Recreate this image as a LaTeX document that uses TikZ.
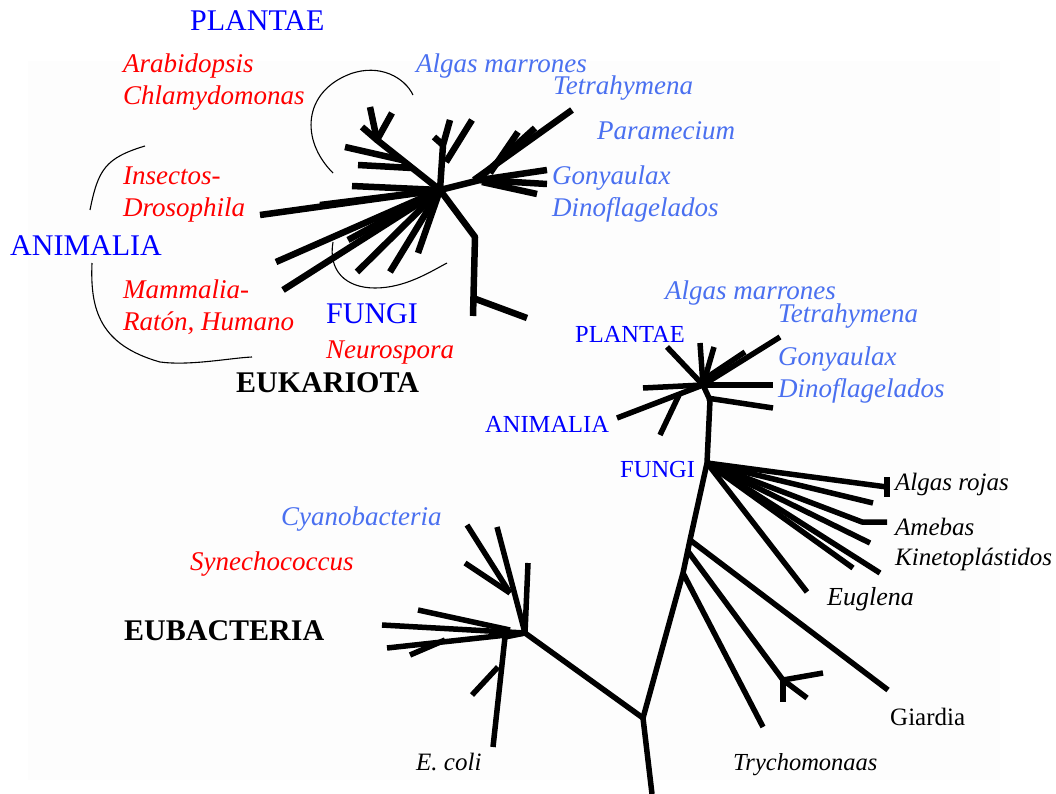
\documentclass[tikz,border=0pt]{standalone}
\usepackage{fontspec}
\setmainfont{Liberation Serif}
\usepackage{tikz}
\definecolor{reino}{HTML}{0000FF}
\definecolor{protis}{HTML}{4A70F0}
\definecolor{rojo}{HTML}{FF0000}
\definecolor{fondo}{HTML}{FDFDFD}
\tikzset{
  rama/.style={black,line width=5.5pt,line join=round},
  ramag/.style={black,line width=6.5pt,line join=round},
  arco/.style={black,line width=1.1pt},
  lab/.style={anchor=base west,inner sep=0pt},
  reinog/.style={lab,reino,font=\fontsize{30}{32}\selectfont},
  reinop/.style={lab,reino,font=\fontsize{24.5}{26}\selectfont},
  espec/.style={lab,rojo,font=\fontsize{27}{30}\selectfont\itshape},
  prot/.style={lab,protis,font=\fontsize{27}{30}\selectfont\itshape},
  otro/.style={lab,black,font=\fontsize{25}{27}\selectfont\itshape},
  domin/.style={lab,black,font=\fontsize{30}{32}\selectfont\bfseries},
}
\begin{document}
\begin{tikzpicture}[x=1pt,y=-1pt]
  \useasboundingbox (0,0) rectangle (1056,794);
  \fill[fondo] (28,61) rectangle (1000,780);

  % arbol eucariota (arriba)
  \coordinate (E) at (440,190);
  \draw[ramag] (E)--(475,237)--(473,316);
  \draw[ramag] (473,298)--(527,318);
  \draw[ramag] (E)--(480,180)--(547,170);
  \draw[ramag] (480,180)--(547,184);
  \draw[ramag] (482,182)--(537,194);
  \draw[ramag] (474,180)--(572,110);
  \draw[ramag] (482,176)--(535,128);
  \draw[ramag] (490,173)--(518,132);
  \draw[ramag] (E)--(443,145)--(450,120);
  \draw[ramag] (443,145)--(434,137);
  \draw[ramag] (446,162)--(472,120);
  \draw[ramag] (E)--(377,140)--(370,107);
  \draw[ramag] (377,140)--(392,113);
  \draw[ramag] (377,140)--(362,127);
  \draw[ramag] (402,160)--(345,147);
  \draw[ramag] (412,168)--(358,165);
  \draw[ramag] (E)--(260,215);
  \draw[ramag] (E)--(320,205);
  \draw[ramag] (E)--(352,186);
  \draw[ramag] (E)--(283,290);
  \draw[ramag] (E)--(276,262);
  \draw[ramag] (E)--(348,240);
  \draw[ramag] (E)--(357,272);
  \draw[ramag] (E)--(390,272);
  \draw[ramag] (E)--(418,253);

  % corchetes
  \draw[arco] (333,173) .. controls (300,140) and (303,92) .. (350,74)
              .. controls (380,63) and (405,78) .. (413,95);
  \draw[arco] (333,242) .. controls (328,270) and (345,288) .. (375,288)
              .. controls (405,288) and (430,272) .. (447,263);
  \draw[arco] (90,210) .. controls (98,170) and (105,158) .. (145,146);
  \draw[arco] (92,263) .. controls (90,310) and (100,345) .. (160,362)
              .. controls (190,366) and (230,358) .. (252,357);

  % arbol universal (abajo)
  \coordinate (C) at (703,385);
  \coordinate (F) at (707,463);
  \coordinate (R) at (643,718);
  \coordinate (B) at (525,633);
  \draw[rama] (C)--(667,347);
  \draw[rama] (C)--(700,343);
  \draw[rama] (C)--(714,347);
  \draw[rama] (C)--(780,337);
  \draw[rama] (706,378)--(745,352);
  \draw[rama] (C)--(773,385);
  \draw[rama] (707,398)--(773,408);
  \draw[rama] (C)--(643,388);
  \draw[rama] (C)--(617,418);
  \draw[rama] (679,395)--(660,435);
  \draw[rama] (C)--(710,400)--(F);
  \draw[rama] (F)--(887,487);
  \draw[rama] (887,477)--(887,497);
  \draw[rama] (F)--(873,503);
  \draw[rama] (F)--(862,522)--(887,522);
  \draw[rama] (F)--(870,543);
  \draw[rama] (F)--(880,573);
  \draw[rama] (F)--(853,568);
  \draw[rama] (F)--(807,592);
  \draw[rama] (F)--(690,540)--(683,573)--(R)--(652,794);
  \draw[rama] (690,540)--(888,690);
  \draw[rama] (687,550)--(783,680)--(823,673);
  \draw[rama] (783,680)--(783,702);
  \draw[rama] (783,680)--(807,698);
  \draw[rama] (683,573)--(763,727);
  \draw[rama] (R)--(B);
  \draw[rama] (B)--(528,563);
  \draw[rama] (B)--(497,527);
  \draw[rama] (510,593)--(467,525);
  \draw[rama] (510,593)--(465,563);
  \draw[rama] (B)--(382,625);
  \draw[rama] (510,630)--(418,610);
  \draw[rama] (B)--(387,648);
  \draw[rama] (445,640)--(410,655);
  \draw[rama] (B)--(505,637)--(493,747);
  \draw[rama] (498,667)--(472,695);

  % textos arriba
  \node[reinog] (plantaeA) at (190,31) {PLANTAE};
  \node[espec] (arabid) at (123,73) {Arabidopsis};
  \node[espec] (chlamy) at (123,105) {Chlamydomonas};
  \node[espec] (insect) at (123,185) {Insectos-};
  \node[espec] (droso) at (123,217) {Drosophila};
  \node[reinog] (animA) at (10,255) {ANIMALIA};
  \node[espec] (mamm) at (123,298) {Mammalia-};
  \node[espec] (raton) at (123,330) {Ratón, Humano};
  \node[reinog] (fungiA) at (326,323) {FUNGI};
  \node[espec] (neuro) at (326,358) {Neurospora};
  \node[domin] (eukar) at (236,392) {EUKARIOTA};
  \node[prot] (algmA) at (416,73) {Algas marrones};
  \node[prot] (tetrA) at (553,95) {Tetrahymena};
  \node[prot] (param) at (597,140) {Paramecium};
  \node[prot] (gonyA) at (552,185) {Gonyaulax};
  \node[prot] (dinoA) at (552,217) {Dinoflagelados};

  % textos abajo
  \node[prot] (algmB) at (665,299) {Algas marrones};
  \node[prot] (tetrB) at (778,322) {Tetrahymena};
  \node[reinop] (plantaeB) at (575,342) {PLANTAE};
  \node[prot] (gonyB) at (778,365) {Gonyaulax};
  \node[prot] (dinoB) at (778,397) {Dinoflagelados};
  \node[reinop] (animB) at (485,432) {ANIMALIA};
  \node[reinop] (fungiB) at (620,477) {FUNGI};
  \node[otro] (algroj) at (895,490) {Algas rojas};
  \node[otro] (ameb) at (895,535) {Amebas};
  \node[otro] (kinet) at (895,565) {Kinetoplástidos};
  \node[otro,font=\fontsize{26}{28}\selectfont\itshape] (eugl) at (827,605) {Euglena};
  \node[lab,font=\fontsize{25}{27}\selectfont] (giard) at (890,725) {Giardia};
  \node[otro,font=\fontsize{24.5}{26}\selectfont\itshape] (trych) at (733,770) {Trychomonaas};
  \node[otro] (ecoli) at (416,770) {E. coli};
  \node[prot] (cyano) at (281,525) {Cyanobacteria};
  \node[espec] (synec) at (190,570) {Synechococcus};
  \node[domin] (eubac) at (124,640) {EUBACTERIA};
\end{tikzpicture}
\end{document}
